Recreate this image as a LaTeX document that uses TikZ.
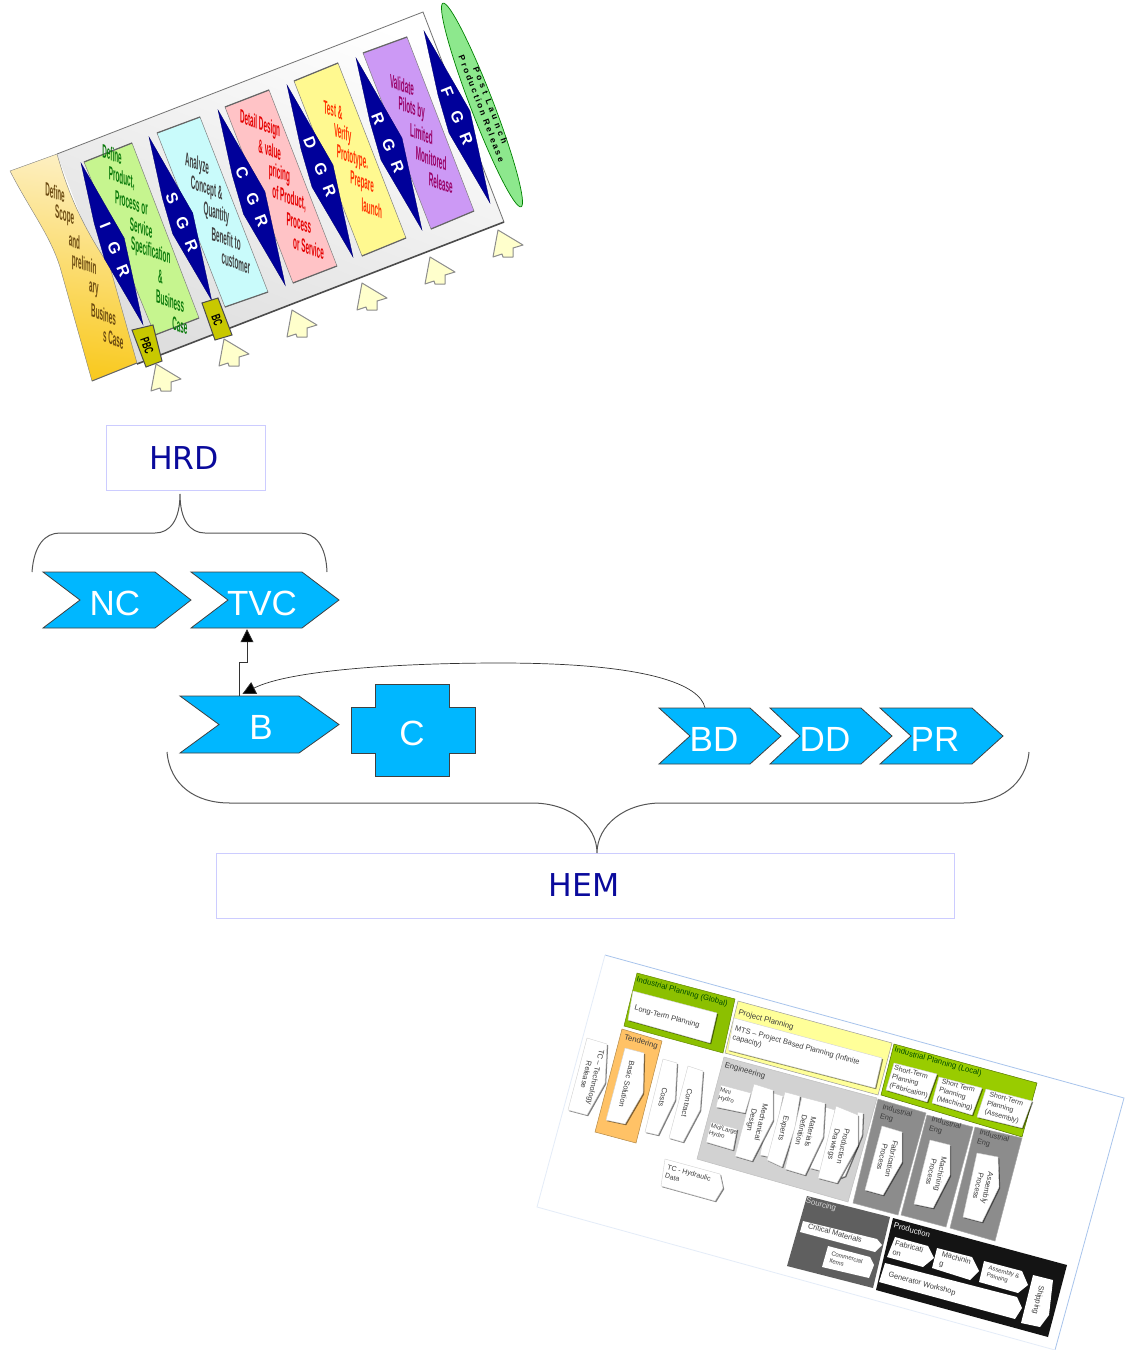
\documentclass[tikz,border=0pt]{standalone}
\usepackage{fontspec}
\usepackage{graphicx}
\setmainfont{Liberation Sans}
\newfontfamily\dejavu{DejaVu Sans}
\usetikzlibrary{calc,arrows.meta,shadows,shapes.geometric}
\definecolor{chevblue}{HTML}{00B7FF}
\definecolor{navy}{HTML}{00009A}
\definecolor{boxline}{HTML}{CCCCFF}
\definecolor{hnavy}{HTML}{0A0A9C}
\definecolor{bracegray}{HTML}{555555}
\definecolor{txtgray}{HTML}{3C3C3C}
\definecolor{engray}{HTML}{D2D2D2}
\definecolor{iegray}{HTML}{8C8C8C}
\definecolor{srcgray}{HTML}{5F5F5F}
\definecolor{lime}{HTML}{8CC000}
\definecolor{lime2}{HTML}{99CC00}
\definecolor{pyellow}{HTML}{FFFF99}
\definecolor{orng}{HTML}{FFC266}
\definecolor{framebl}{HTML}{A8C4EC}
\definecolor{framefaint}{HTML}{E4ECF8}
\definecolor{arrowy}{HTML}{FFFFCC}
\definecolor{olivey}{HTML}{C8C800}
\definecolor{colgreen}{HTML}{C6F58F}
\definecolor{colcyan}{HTML}{C9FBFB}
\definecolor{colpink}{HTML}{FFC3C6}
\definecolor{colyellow}{HTML}{FFF990}
\definecolor{colpurple}{HTML}{CC99F5}
\definecolor{tanlight}{HTML}{FDEFC0}
\definecolor{tandark}{HTML}{F9C91E}
\definecolor{ellgreen}{HTML}{8DE88D}
\definecolor{tantxt}{HTML}{6B4A10}
\definecolor{grntxt}{HTML}{0A7A0A}
\tikzset{
  chevshape/.style={fill=chevblue,draw=black!75,line width=.8pt,line join=miter},
  chevtxt/.style={text=white,font=\fontsize{35}{36}\selectfont,inner sep=0pt},
  holder/.style={inner sep=0pt},
  hbox/.style={draw=boxline,line width=1pt,fill=white,inner sep=0pt},
  htxt/.style={text=hnavy,font=\dejavu\fontsize{31.5}{33}\selectfont,inner sep=0pt},
  bracel/.style={draw=bracegray,line width=1pt},
  conn/.style={draw=black!80,line width=.7pt},
  head/.style={-{Triangle[length=13pt,width=13pt,fill=black]}},
  coltxt/.style={inner sep=0pt,rotate=-20,xslant=-.364,transform shape,font=\bfseries\fontsize{12}{12}\selectfont},
  kitefill/.style={fill=navy,draw=navy!70!black,line width=.3pt},
  kitetxt/.style={inner sep=0pt,rotate=-68,text=white,font=\bfseries\fontsize{16}{16}\selectfont},
  upar/.style={fill=arrowy,draw=black!45,line width=1pt,line join=round},
  gate/.style={fill=olivey,draw=black!70,line width=1pt},
  gatetxt/.style={inner sep=0pt,rotate=-70,font=\bfseries\fontsize{11}{11}\selectfont},
  wb/.style={fill=white,draw=black!18,line width=.4pt,drop shadow={shadow xshift=1.2pt,shadow yshift=-1.2pt,fill=black,opacity=.5}},
  lab/.style={inner sep=0pt,rotate=-15.4,text=txtgray,align=left,font=\fontsize{7.5}{9.5}\selectfont},
  vlab/.style={inner sep=0pt,rotate=-103,text=txtgray,align=center,font=\fontsize{7.5}{9.5}\selectfont},
  toplab/.style={lab,font=\fontsize{7.8}{9.5}\selectfont},
  smlab/.style={lab,font=\fontsize{6}{7.5}\selectfont},
  stlab/.style={lab,font=\fontsize{7}{9}\selectfont},
  colbox/.style={draw=black!50,line width=.5pt},
  coledge/.style={draw=black!60,line width=1.2pt},
  sheet/.style={draw=black!35,line width=.5pt},
}
\newcommand{\coltext}[5]{%
  \foreach \myt [count=\myi from 0] in {#5} {
    \node[coltxt,text=#4] (#1-\myi) at ({#2+\myi*9.7},{#3+\myi*24.5}) {\scalebox{.56}[1.5]{\myt}};
  }}
% name, top x, top y, scale, G x, G y, first letter
\newcommand{\kite}[7]{%
  \draw[kitefill] (#2,#3) -- ++({46*#4},{80*#4}) -- ({#2+66*#4},{#3+172*#4}) -- ({#2+25*#4},{#3+102*#4}) -- ({#2+14*#4},{#3+64*#4}) -- cycle;
  \node[kitetxt] (#1) at (#5,#6) {#7\hspace{16pt}G\hspace{12pt}R};}
\newcommand{\gatearrow}[3]{%
  \coordinate (#1) at (#2,#3);
  \draw[upar] (#1) -- ++(25,15) -- ++(-10,3) -- ++(0,9) -- ++(-10,0) -- ++(-1,-3) -- ++(-9,3) -- cycle;}
\newcommand{\chev}[9]{%
  % name, xleft, xnotch, xshoulder, xtip, ytop, ybot, text x, text
  \draw[chevshape] (#2,#6) -- (#4,#6) -- (#5,{(#6+#7)/2}) -- (#4,#7) -- (#2,#7) -- (#3,{(#6+#7)/2}) -- cycle;
  \node[holder,minimum width={(#5-#2)*1pt},minimum height={(#7-#6)*1pt}] (#1) at ({(#2+#5)/2},{(#6+#7)/2}) {};
  \node[chevtxt] (#1t) at (#8,{(#6+#7)/2+3}) {#9};}
\begin{document}
\begin{tikzpicture}[x=1pt,y=-1pt]
\useasboundingbox (0,0) rectangle (1126,1350);
\fill[white] (0,0) rectangle (1126,1350);

%% ---------- top panel ----------
\shade[top color=white,bottom color=black!13,shading angle=-21] (57,154) -- (423,12) -- (504,222) -- (137,364) -- cycle;
\draw[black!55,line width=.8pt] (57,154) -- (423,12) -- (504,222);
\draw[black!70,line width=1.6pt] (504,222) -- (137,364);
% ellipse
\node[ellipse,draw=green!50!black,fill=ellgreen,line width=.7pt,minimum width=218pt,minimum height=23pt,inner sep=0pt,rotate=-69] (ell) at (482,105) {};
% tan
\shade[top color=tanlight,bottom color=tandark,shading angle=-8,draw=black!50] (10,171) -- (57,154) .. controls (66,185) and (78,220) .. (110,267) -- (137,363) -- (92,381) -- (60,267) .. controls (50,235) and (30,210) .. cycle;
\draw[black!60,line width=1pt] (137,363) -- (92,381);
% columns
\draw[fill=colgreen,colbox] (84,162) -- (132,143) -- (199,318) -- (155,335) -- cycle;
\draw[coledge] (84,162) -- (132,143) (199,318) -- (155,335);
\draw[fill=colcyan,colbox] (157,133) -- (200,117) -- (268,292) -- (225,307) -- cycle;
\draw[coledge] (157,133) -- (200,117) (268,292) -- (225,307);
\draw[fill=colpink,colbox] (225,107) -- (269,90) -- (337,266) -- (293,283) -- cycle;
\draw[coledge] (225,107) -- (269,90) (337,266) -- (293,283);
\draw[fill=colyellow,colbox] (294,81) -- (338,63) -- (406,238) -- (362,256) -- cycle;
\draw[coledge] (294,81) -- (338,63) (406,238) -- (362,256);
\draw[fill=colpurple,colbox] (363,53) -- (407,37) -- (474,211) -- (431,229) -- cycle;
\draw[coledge] (363,53) -- (407,37) (474,211) -- (431,229);
% kites
\kite{kI}{81}{163}{.94}{115}{250}{I}
\kite{kS}{149}{137}{.95}{182}{222}{S}
\kite{kC}{218}{110}{1.02}{252}{197}{C}
\kite{kD}{287}{85}{1}{320}{167}{D}
\kite{kR}{356}{58}{1}{388}{143}{R}
\kite{kF}{424}{31}{1}{457}{116}{F}
% column text
\coltext{tTan}{55}{192}{tantxt}{Define,Scope,and,prelimin,ary,Busines,s Case}
\coltext{tGrn}{112}{154}{grntxt}{Define,{Product,},Process or,Service,Specification,\&,Business,Case}
\coltext{tCyn}{197}{165}{black!75}{Analyze,Concept \&,Quantity,Benefit to,customer}
\coltext{tPnk}{260}{125}{red!90!black}{Detail Design,\& value,pricing,{of Product,},Process,or Service}
\coltext{tYel}{333}{110}{orange!40!red}{Test \&,Verify,Prototype.,Prepare,launch}
\coltext{tPur}{402}{85}{purple!80!blue}{Validate,Pilots by,Limited,Monitored,Release}
% gates
\draw[gate] (132,330) -- (153,325) -- (162,361) -- (146,367) -- cycle;
\node[gatetxt] (gPBC) at (147,346) {\scalebox{.7}[1.15]{PBC}};
\draw[gate] (202,303) -- (218,298) -- (232,335) -- (215,340) -- cycle;
\node[gatetxt] (gBC) at (217,320) {\scalebox{.7}[1.15]{BC}};
% arrows
\gatearrow{a1}{156}{364}\gatearrow{a2}{224}{339}\gatearrow{a3}{292}{310}\gatearrow{a4}{362}{283}\gatearrow{a5}{430}{257}\gatearrow{a6}{498}{230}
\node[inner sep=0pt,rotate=-69,align=center,font=\bfseries\fontsize{8.5}{9.5}\selectfont] (ellt) at (486,107) {\addfontfeatures{LetterSpace=40}Post Launch\\\addfontfeatures{LetterSpace=25}Production Release};

%% ---------- middle ----------
\node[hbox,minimum width=159pt,minimum height=65pt] (HRD) at (185.5,457.5) {};
\node[htxt] (HRDt) at (184,458) {HRD};
\node[hbox,minimum width=738pt,minimum height=65pt] (HEM) at (585,885.5) {};
\node[htxt] (HEMt) at (584,885) {HEM};
\coordinate (hrdtip) at (180,494);
\draw[bracel] (32,572) .. controls (34,545) and (45,533) .. (60,533) -- (155,533) .. controls (170,533) and (180,520) .. (hrdtip) .. controls (180,520) and (190,533) .. (205,533) -- (300,533) .. controls (315,533) and (326,545) .. (327,572);
\coordinate (hemtip) at (597,853);
\draw[bracel] (167,752) .. controls (170,785) and (195,803) .. (230,803) -- (532,803) .. controls (570,803) and (597,825) .. (hemtip) .. controls (597,825) and (625,803) .. (661,803) -- (963,803) .. controls (1000,803) and (1026,785) .. (1029,752);
\chev{NC}{43}{80}{155}{191}{572}{628}{115}{NC}
\chev{TVC}{191}{228}{302}{339}{572}{628}{262}{TVC}
\chev{B}{180}{219}{299}{339}{696}{753}{261}{B}
\chev{BD}{659}{690}{750}{781}{708}{764}{714}{BD}
\chev{DD}{770}{800}{861}{892}{708}{764}{825}{DD}
\chev{PR}{880}{911}{972}{1003}{708}{764}{935}{PR}
\draw[chevshape] (351,707) -- (375,707) -- (375,684) -- (449,684) -- (449,707) -- (475,707) -- (475,753) -- (449,753) -- (449,776) -- (375,776) -- (375,753) -- (351,753) -- cycle;
\node[holder,minimum width=124pt,minimum height=92pt] (C) at (413,730) {};
\node[chevtxt] (Ct) at (412,733) {C};
\draw[conn,head] ($(B.north)+(-20,0)$) -- ++(0,-33) -- ++(7.5,0) -- ($(TVC.south)+(-18,1)$);
\draw[conn,head] ($(BD.north)+(-15,0)$) .. controls (700,685) and (650,663) .. (500,663) .. controls (400,663) and (290,670) .. ($(B.north)+(-17,-2)$);

%% ---------- bottom panel ----------
\fill[white] (605,955) -- (1124,1098) -- (1055,1350) -- (537,1207) -- cycle;
\draw[framebl,line width=.8pt] (605,955) -- (1124,1098) -- (1055,1350);
\draw[framefaint,line width=.8pt] (605,955) -- (537,1207) -- (1055,1350);
% industrial planning global
\draw[fill=lime,draw=lime!70!black,line width=.5pt] (637,973) -- (735,999) -- (723,1053) -- (624,1026) -- cycle;
\draw[wb] (633,991) -- (717,1013) -- (710,1043) -- (628,1020) -- cycle;
\node[toplab,text=black!70!green] (tIPG) at (682,992) {Industrial Planning (Global)};
\node[lab] (tLTP) at (667,1017) {Long-Term Planning};
% project planning
\draw[fill=pyellow,draw=black!40,line width=.5pt] (738,1001) -- (892,1043) -- (878,1095) -- (725,1053) -- cycle;
\draw[wb] (734,1018) -- (882,1058) -- (875,1088) -- (728,1050) -- cycle;
\node[toplab] (tPP) at (766,1020) {Project Planning};
\node[lab,anchor=north west] (tMTS) at (736,1025) {MTS -- Project Based Planning (Infinite\\capacity)};
% tendering
\draw[fill=orng,draw=orng!70!black,line width=.5pt] (622,1029) -- (662,1041) -- (636,1143) -- (595,1132) -- cycle;
\node[toplab] (tTend) at (641,1042) {Tendering};
\draw[wb] (625,1048) -- (644,1053) -- (643,1093) -- (625,1124) -- (606,1120) -- cycle;
\node[vlab] (tBasic) at (627,1084) {Basic Solution};
\draw[wb] (587,1038) -- (607,1044) -- (605,1083) -- (587,1115) -- (568,1110) -- cycle;
\node[vlab] (tTC) at (591,1076) {TC -- Technology\\Release};
\draw[wb] (663,1059) -- (677,1063) -- (675,1100) -- (658,1135) -- (645,1132) -- cycle;
\node[vlab] (tCosts) at (663,1097) {Costs};
\draw[wb] (688,1066) -- (703,1071) -- (700,1110) -- (683,1142) -- (669,1138) -- cycle;
\node[vlab] (tContract) at (687,1103) {Contract};
\draw[wb] (665,1159) -- (720,1174) -- (723,1188) -- (715,1201) -- (661,1186) -- cycle;
\node[stlab] (tTCH) at (688,1177) {TC - Hydraulic\\Data};
% engineering
\draw[fill=engray,draw=black!25,line width=.5pt] (724,1057) -- (877,1098) -- (848,1202) -- (697,1159) -- cycle;
\node[toplab] (tEng) at (745,1071) {Engineering};
\draw[wb] (721,1085) -- (751,1093) -- (745,1113) -- (716,1107) -- cycle;
\node[smlab] (tMini) at (727,1096) {Mini\\Hydro};
\draw[wb] (711,1122) -- (737,1129) -- (733,1150) -- (706,1142) -- cycle;
\node[smlab] (tMid) at (723,1133) {Mid/Large\\Hydro};
\draw[wb] (773,1093) -- (783,1096) -- (770,1157) -- (760,1155) -- cycle;
\draw[wb] (825,1107) -- (835,1110) -- (825,1172) -- (810,1168) -- cycle;
\draw[wb] (754,1084) -- (773,1090) -- (773,1120) -- (752,1161) -- (735,1156) -- cycle;
\node[vlab] (tMech) at (756,1121) {Mechanical\\Design};
\draw[wb] (785,1092) -- (800,1096) -- (795,1127) -- (782,1167) -- (767,1160) -- cycle;
\node[vlab] (tExp) at (783,1128) {Experts};
\draw[wb] (802,1097) -- (825,1103) -- (823,1137) -- (805,1175) -- (785,1169) -- cycle;
\node[vlab] (tMat) at (806,1131) {Materials\\Definition};
\draw[wb] (858,1112) -- (863,1113) -- (862,1135) -- (845,1176) -- (840,1178) -- cycle;
\draw[wb] (836,1106) -- (858,1115) -- (858,1145) -- (837,1183) -- (818,1178) -- cycle;
\node[vlab] (tProd) at (838,1145) {Production\\Drawings};
% industrial planning local
\draw[fill=lime2,draw=lime!60!black,line width=.5pt] (894,1044) -- (1037,1083) -- (1022,1137) -- (881,1095) -- cycle;
\node[toplab,text=black!70!green] (tIPL) at (938,1062) {Industrial Planning (Local)};
\draw[wb] (894,1063) -- (937,1074) -- (927,1102) -- (886,1090) -- cycle;
\node[stlab] (tS1) at (911,1082) {Short-Term\\Planning\\(Fabrication)};
\draw[wb] (939,1077) -- (982,1088) -- (972,1115) -- (932,1103) -- cycle;
\node[stlab] (tS2) at (957,1095) {Short Term\\Planning\\(Machining)};
\draw[wb] (986,1089) -- (1032,1101) -- (1022,1128) -- (977,1117) -- cycle;
\node[stlab] (tS3) at (1004,1108) {Short-Term\\Planning\\(Assembly)};
% industrial eng
\draw[fill=iegray,sheet] (878,1099) -- (926,1113) -- (898,1215) -- (853,1203) -- cycle;
\draw[fill=iegray,sheet] (927,1115) -- (973,1127) -- (946,1227) -- (901,1215) -- cycle;
\draw[fill=iegray,sheet] (975,1127) -- (1022,1138) -- (995,1241) -- (950,1228) -- cycle;
\node[lab] (tIE1) at (896,1116) {Industrial\\Eng};
\node[lab] (tIE2) at (945,1128) {Industrial\\Eng};
\node[lab] (tIE3) at (993,1141) {Industrial\\Eng};
\draw[wb] (882,1126) -- (902,1132) -- (902,1162) -- (883,1195) -- (865,1190) -- cycle;
\node[vlab] (tFP) at (887,1158) {Fabrication\\Process};
\draw[wb] (930,1140) -- (950,1145) -- (950,1175) -- (933,1208) -- (914,1204) -- cycle;
\node[vlab] (tMP) at (936,1173) {Machining\\Process};
\draw[wb] (977,1153) -- (998,1157) -- (999,1187) -- (982,1222) -- (963,1217) -- cycle;
\node[vlab] (tAP) at (983,1187) {Assembly\\Process};
% sourcing
\fill[srcgray] (807,1196) -- (890,1217) -- (873,1288) -- (787,1266) -- cycle;
\node[toplab,text=black!15] (tSrc) at (821,1205) {Sourcing};
\fill[white] (803,1221) -- (877,1239) -- (882,1245) -- (875,1252) -- (800,1232) -- cycle;
\node[lab] (tCrit) at (835,1233) {Critical Materials};
\fill[white] (828,1246) -- (870,1257) -- (874,1265) -- (869,1278) -- (822,1267) -- cycle;
\node[smlab] (tComm) at (846,1261) {Commercial\\Items};
% production
\fill[black!92] (893,1218) -- (1067,1265) -- (1048,1337) -- (876,1290) -- cycle;
\node[toplab,text=white] (tProdn) at (912,1230) {Production};
\fill[white] (895,1237) -- (928,1246) -- (934,1258) -- (923,1267) -- (887,1257) -- cycle;
\node[lab] (tF) at (908,1251) {Fabricati\\on};
\fill[white] (937,1248) -- (972,1257) -- (979,1271) -- (970,1280) -- (932,1268) -- cycle;
\node[lab] (tM) at (955,1263) {Machinin\\g};
\fill[white] (984,1261) -- (1022,1271) -- (1028,1285) -- (1018,1293) -- (979,1282) -- cycle;
\node[smlab] (tA) at (1003,1276) {Assembly \&\\Painting};
\fill[white] (885,1263) -- (1017,1297) -- (1022,1308) -- (1015,1319) -- (879,1282) -- cycle;
\node[lab] (tG) at (922,1284) {Generator Workshop};
\fill[white] (1033,1275) -- (1053,1280) -- (1049,1315) -- (1040,1327) -- (1021,1323) -- cycle;
\node[vlab] (tShip) at (1038,1300) {Shipping};
\end{tikzpicture}
\end{document}
